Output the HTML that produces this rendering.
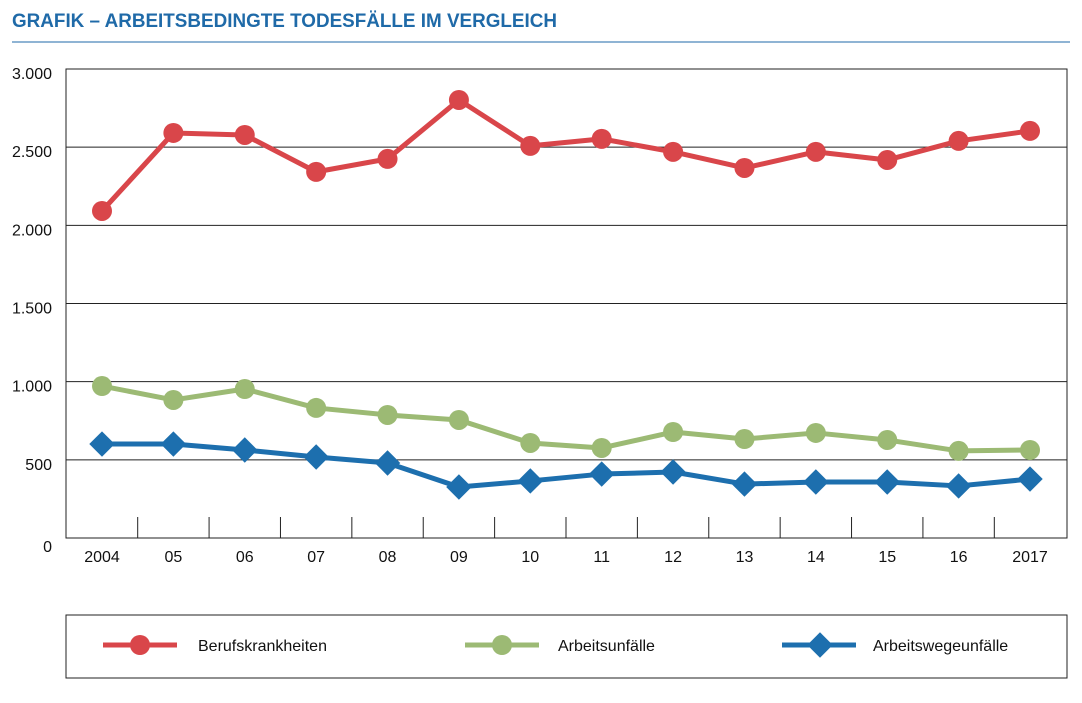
<!DOCTYPE html>
<html><head><meta charset="utf-8"><style>
body{margin:0;background:#fff;width:1082px;height:698px;overflow:hidden;font-family:"Liberation Sans",sans-serif}
</style></head><body>
<svg width="1082" height="698" viewBox="0 0 1082 698" xmlns="http://www.w3.org/2000/svg">
<text x="12" y="27" font-size="19" font-weight="bold" fill="#1f6aa8" font-family="Liberation Sans Narrow, Liberation Sans, sans-serif" textLength="545" lengthAdjust="spacingAndGlyphs">GRAFIK – ARBEITSBEDINGTE TODESFÄLLE IM VERGLEICH</text>
<line x1="12" y1="42" x2="1070" y2="42" stroke="#1f6aa8" stroke-width="1"/>
<g id="grid"></g><g id="axes"></g><g id="series"></g>
<rect x="66" y="615" width="1001" height="63" fill="none" stroke="#222" stroke-width="1"/>
<g>
<line x1="103" y1="645" x2="177" y2="645" stroke="#d9464a" stroke-width="5"/><circle cx="140" cy="645" r="10" fill="#d9464a"/>
<text x="198" y="651" font-size="16" fill="#111">Berufskrankheiten</text></g>
<g>
<line x1="465" y1="645" x2="539" y2="645" stroke="#9cba74" stroke-width="5"/><circle cx="502" cy="645" r="10" fill="#9cba74"/>
<text x="558" y="651" font-size="16" fill="#111">Arbeitsunfälle</text></g>
<g>
<line x1="782" y1="645" x2="856" y2="645" stroke="#1d6fae" stroke-width="5"/><rect x="811" y="636" width="18" height="18" fill="#1d6fae" transform="rotate(45 820 645)"/>
<text x="873" y="651" font-size="16" fill="#111">Arbeitswegeunfälle</text></g>
</svg>
<script>
const categories=["2004","05","06","07","08","09","10","11","12","13","14","15","16","2017"];
const yTicks=[0,500,1000,1500,2000,2500,3000];
const yTickLabels=["0","500","1.000","1.500","2.000","2.500","3.000"];
const berufskrankheiten=[2092,2591,2578,2342,2425,2802,2508,2553,2470,2367,2470,2418,2540,2604];
const arbeitsunfaelle=[972,883,953,832,787,755,608,576,678,633,672,627,557,563];
const arbeitswegeunfaelle=[601,601,563,518,480,326,365,409,422,345,358,358,333,377];
const NS="http://www.w3.org/2000/svg";
const L=66,R=1067,T=69,B=538;
const x=i=>102+i*(1030-102)/(categories.length-1);
const y=v=>B-v*(B-T)/3000;
function mk(tag,attrs,parent){const e=document.createElementNS(NS,tag);for(const k in attrs)e.setAttribute(k,attrs[k]);parent.appendChild(e);return e;}
const grid=document.getElementById('grid'),axes=document.getElementById('axes'),ser=document.getElementById('series');
yTicks.forEach((v,i)=>{
 if(v>0){const g=mk('line',{x1:L,x2:R,y1:y(v),y2:y(v),stroke:'#222','stroke-width':1},grid);
 
 }
 const t=mk('text',{x:L-14,y:y(v)+(v===0?14:10),'font-size':16,'text-anchor':'end',fill:'#111'},axes);
 t.textContent=yTickLabels[i];
 
 
});
const fr=mk('rect',{x:L,y:T,width:R-L,height:B-T,fill:'none',stroke:'#222','stroke-width':1},axes);


categories.forEach((c,i)=>{
 if(i<categories.length-1){const tk=mk('line',{x1:(x(i)+x(i+1))/2,x2:(x(i)+x(i+1))/2,y1:B-21,y2:B,stroke:'#222','stroke-width':1},axes);
 
 }
 const t=mk('text',{x:x(i),y:562,'font-size':16,'text-anchor':'middle',fill:'#111'},axes);
 t.textContent=c;
 
 
});
function series(vals,color,name,diamond){
 const p=mk('polyline',{points:vals.map((v,i)=>x(i)+','+y(v)).join(' '),fill:'none',stroke:color,'stroke-width':5,'stroke-linejoin':'round'},ser);
 
 
 vals.forEach((v,i)=>{let m;
  if(diamond)m=mk('rect',{x:x(i)-9,y:y(v)-9,width:18,height:18,fill:color,transform:`rotate(45 ${x(i)} ${y(v)})`},ser);
  else m=mk('circle',{cx:x(i),cy:y(v),r:10,fill:color},ser);
  
  
 });
}
series(berufskrankheiten,'#d9464a','berufskrankheiten',false);
series(arbeitsunfaelle,'#9cba74','arbeitsunfaelle',false);
series(arbeitswegeunfaelle,'#1d6fae','arbeitswegeunfaelle',true);
</script>
</body></html>
